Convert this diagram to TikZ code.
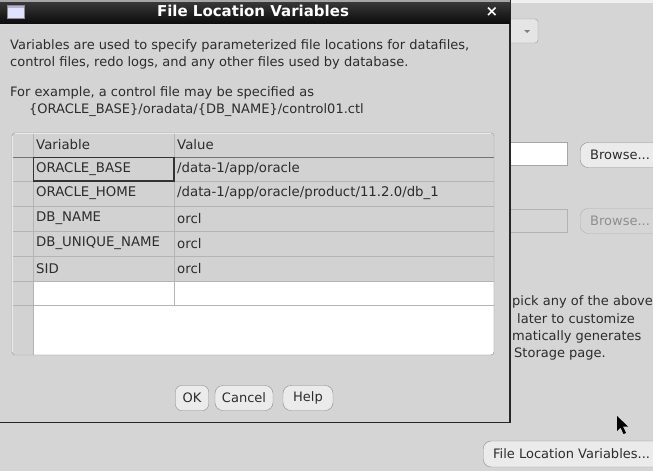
\documentclass[tikz,border=0pt]{standalone}
\usepackage{fontspec}
\setmainfont{DejaVu Sans}
\definecolor{bg}{HTML}{D5D5D5}
\definecolor{dlg}{HTML}{D4D4D4}
\definecolor{cell}{HTML}{D2D2D2}
\definecolor{grid}{HTML}{B4B4B4}
\definecolor{txt}{HTML}{2C2C2C}
\definecolor{dis}{HTML}{8E8E8E}
\tikzset{
  lbl/.style={anchor=west, inner sep=0pt, text=txt, font=\fontsize{13}{15}\selectfont},
  celltxt/.style={anchor=west, inner sep=0pt, text=txt, font=\fontsize{13.3}{15}\selectfont},
  btn/.style={draw=black!45, fill=black!8, rounded corners=8pt, inner sep=0pt, text=txt,
    font=\fontsize{13}{15}\selectfont, minimum height=25pt},
  gridline/.style={draw=grid, line width=0.8pt},
}
\begin{document}
\begin{tikzpicture}[x=1pt,y=-1pt]
\useasboundingbox (0,0) rectangle (653,471);
\clip (0,0) rectangle (653,471);
\fill[bg] (0,0) rectangle (653,471);
\fill[black!6] (505,0) rectangle (653,3);

% ---- background window widgets ----
\draw[draw=black!40, fill=black!10, rounded corners=3pt] (490,19) rectangle (538,43);
\fill[black!50] (524,30) -- (530,30) -- (527,33) -- cycle;
\draw[draw=black!35, fill=white] (490,142) rectangle (567,165);
\node[btn, minimum width=100pt, anchor=west] (br1) at (580,155) {};
\node[lbl] (br1t) at (590,155) {Browse...};
\draw[draw=black!30, fill=bg] (490,209) rectangle (567,232);
\node[btn, draw=black!30, fill=bg, minimum width=100pt, anchor=west] (br2) at (580,221) {};
\node[lbl, text=dis] (br2t) at (590,221) {Browse...};
\node[lbl] (r1) at (512,302) {pick any of the above};
\node[lbl] (r2) at (517,319) {later to customize};
\node[lbl] (r3) at (512,337) {matically generates};
\node[lbl] (r4) at (514,354) {Storage page.};
\node[btn, minimum width=185pt, minimum height=26pt, anchor=west] (flv) at (483,454) {};
\node[lbl] (flvt) at (493,454) {File Location Variables...};
% mouse cursor
\fill[black] (617,416) -- (617,431) -- (620.5,427.5) -- (623.5,434) -- (626,433) -- (623,426.5) -- (628,426.5) -- cycle;

% ---- dialog ----
\fill[dlg] (0,23) rectangle (510,422);
\draw[black!15, line width=1pt] (0,24.5) -- (508,24.5);
\draw[black!85, line width=1.6pt] (510,0) -- (510,422.5) -- (0,422.5);
\shade[top color=black!78, bottom color=black!95] (0,2) rectangle (510,23);
\fill[black!35] (0,0) rectangle (510,2);
% title icon
\fill[black!45] (6.5,4.5) rectangle (24.5,18.5);
\fill[white!88!blue] (7.5,7.5) rectangle (23.5,17.5);
\fill[black!55!blue!30] (7.5,5.5) rectangle (23.5,7.5);
\node[text=white, font=\bfseries\fontsize{15}{17}\selectfont, inner sep=0pt] (title) at (253,11) {File Location Variables};
\node[text=white, font=\bfseries\fontsize{15}{17}\selectfont, inner sep=0pt] (close) at (492,12) {×};

% description text
\node[lbl] (d1) at (10,46) {Variables are used to specify parameterized file locations for datafiles,};
\node[lbl] (d2) at (10,63) {control files, redo logs, and any other files used by database.};
\node[lbl] (d3) at (10,93) {For example, a control file may be specified as};
\node[lbl] (d4) at (29,110) {\{ORACLE\_BASE\}/oradata/\{DB\_NAME\}/control01.ctl};

% ---- table ----
\draw[draw=black!35, fill=white, rounded corners=3pt] (12,133) rectangle (494,355);
\fill[cell] (12.5,133.5) rectangle (33,354.5);
\fill[cell] (33,133.5) rectangle (493.5,281);
\foreach \yy in {181,206,231,256,281,305} {\draw[gridline] (12.5,\yy) -- (493.5,\yy);}
\draw[draw=black!55, line width=1pt] (12.5,157) -- (493.5,157);
\draw[gridline] (33,133.5) -- (33,354.5);
\draw[gridline] (174,133.5) -- (174,305);
\draw[draw=black!35, rounded corners=3pt] (12,133) rectangle (494,355);
\draw[black!80, line width=1.2pt] (33.5,157.5) rectangle (174,181);
\node[celltxt] (hv) at (36,145) {Variable};
\node[celltxt] (hval) at (177,145) {Value};
\node[celltxt] (v1) at (36,169) {ORACLE\_BASE};
\node[celltxt] (w1) at (177,169) {/data-1/app/oracle};
\node[celltxt] (v2) at (36,193.5) {ORACLE\_HOME};
\node[celltxt] (w2) at (177,193.5) {/data-1/app/oracle/product/11.2.0/db\_1};
\node[celltxt] (v3) at (36,218.5) {DB\_NAME};
\node[celltxt] (w3) at (177,218.5) {orcl};
\node[celltxt] (v4) at (36,243.5) {DB\_UNIQUE\_NAME};
\node[celltxt] (w4) at (177,243.5) {orcl};
\node[celltxt] (v5) at (36,268.5) {SID};
\node[celltxt] (w5) at (177,268.5) {orcl};

% ---- buttons ----
\node[btn, minimum width=33pt, rounded corners=6pt] (ok) at (192,398) {OK};
\node[btn, minimum width=58pt] (cancel) at (244,398) {Cancel};
\node[btn, minimum width=50pt] (help) at (308,398) {Help};
\end{tikzpicture}
\end{document}
